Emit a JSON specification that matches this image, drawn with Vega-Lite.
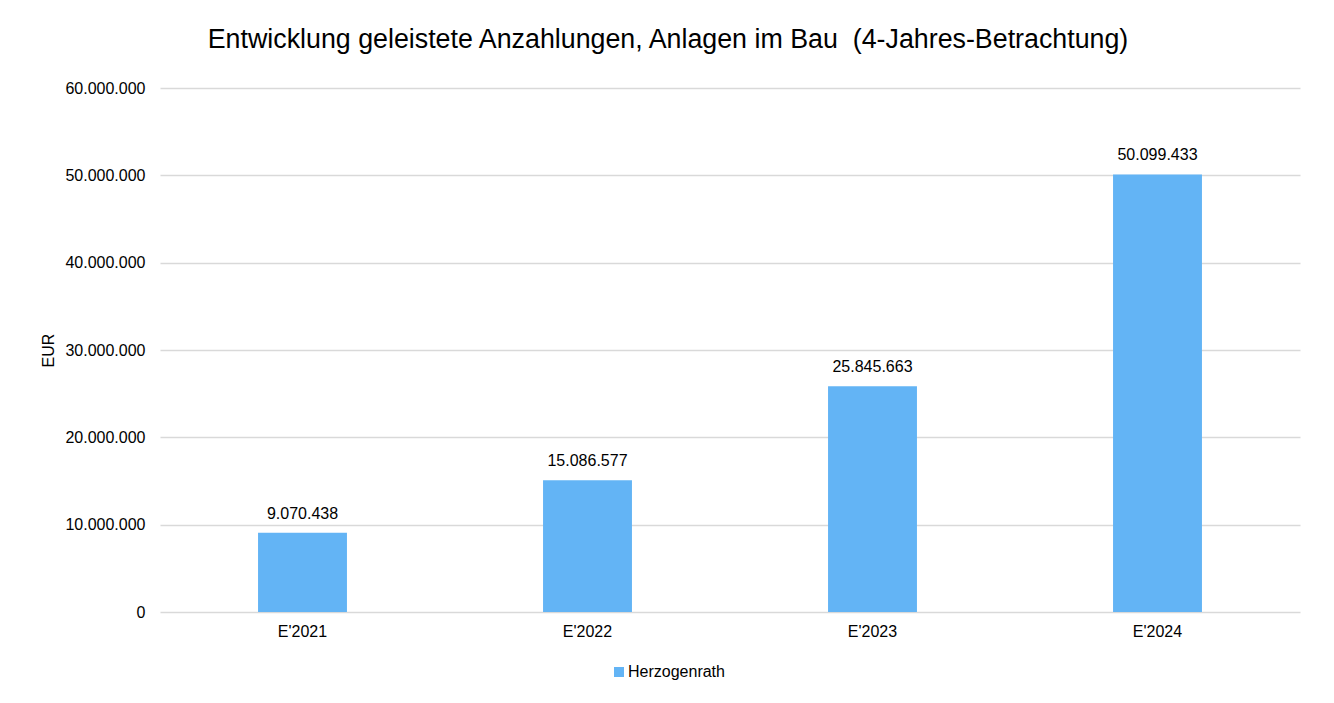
{
  "$schema": "https://vega.github.io/schema/vega-lite/v6.json",
  "autosize": {"type": "none"},
  "width": 1140,
  "height": 524,
  "padding": {"left": 160, "top": 88, "right": 34, "bottom": 91},
  "background": "white",
  "title": {
    "text": "Entwicklung geleistete Anzahlungen, Anlagen im Bau \u00a0(4-Jahres-Betrachtung)",
    "font": "Liberation Sans",
    "fontSize": 26.8,
    "fontWeight": "normal",
    "color": "#000000",
    "anchor": "middle",
    "dx": -62,
    "offset": 26
  },
  "config": {
    "locale": {
      "number": {"decimal": ",", "thousands": ".", "grouping": [3], "currency": ["", " €"]}
    },
    "view": {"stroke": null},
    "font": "Liberation Sans"
  },
  "data": {
    "values": [
      {"jahr": "E'2021", "wert": 9070438, "serie": "Herzogenrath"},
      {"jahr": "E'2022", "wert": 15086577, "serie": "Herzogenrath"},
      {"jahr": "E'2023", "wert": 25845663, "serie": "Herzogenrath"},
      {"jahr": "E'2024", "wert": 50099433, "serie": "Herzogenrath"}
    ]
  },
  "encoding": {
    "x": {
      "field": "jahr",
      "type": "nominal",
      "sort": null,
      "scale": {"paddingInner": 0.688, "paddingOuter": 0.344},
      "axis": {
        "title": null,
        "labelAngle": 0,
        "labelFontSize": 16,
        "labelColor": "#000000",
        "labelPadding": 11,
        "ticks": false,
        "domain": false,
        "grid": false
      }
    },
    "y": {
      "field": "wert",
      "type": "quantitative",
      "scale": {"domain": [0, 60000000]},
      "axis": {
        "title": "EUR",
        "titleFontSize": 16,
        "titleFontWeight": "normal",
        "titleColor": "#000000",
        "titlePadding": 8,
        "values": [0, 10000000, 20000000, 30000000, 40000000, 50000000, 60000000],
        "format": ",d",
        "labelFontSize": 16,
        "labelColor": "#000000",
        "labelPadding": 15,
        "ticks": false,
        "domain": false,
        "grid": true,
        "gridColor": "#d9d9d9",
        "gridWidth": 1.5
      }
    }
  },
  "layer": [
    {
      "mark": {"type": "bar"},
      "encoding": {
        "color": {
          "field": "serie",
          "type": "nominal",
          "scale": {"range": ["#63B4F5"]},
          "legend": {
            "title": null,
            "orient": "none",
            "legendX": 451,
            "legendY": 576,
            "symbolType": "square",
            "symbolSize": 100,
            "symbolStrokeWidth": 0,
            "labelFontSize": 16,
            "labelColor": "#000000",
            "labelOffset": 1
          }
        }
      }
    },
    {
      "mark": {"type": "text", "baseline": "alphabetic", "dy": -14, "fontSize": 16, "color": "#000000"},
      "encoding": {
        "text": {"field": "wert", "type": "quantitative", "format": ",d"}
      }
    }
  ]
}
